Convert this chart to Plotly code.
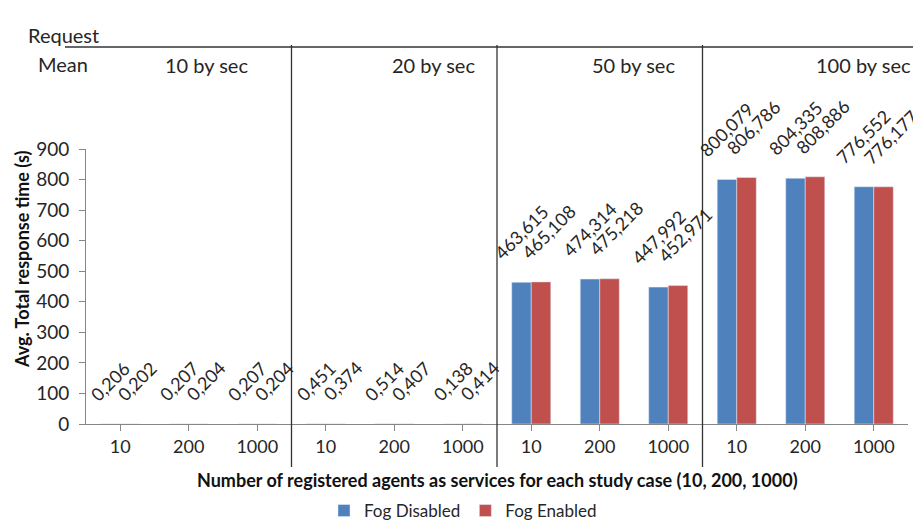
import plotly.graph_objects as go

# ---- data ----
groups = ["10 by sec", "20 by sec", "50 by sec", "100 by sec"]
agents = ["10", "200", "1000"]
fog_disabled = [0.206, 0.207, 0.207,
                0.451, 0.514, 0.138,
                463.615, 474.314, 447.992,
                800.079, 804.335, 776.552]
fog_enabled = [0.202, 0.204, 0.204,
               0.374, 0.407, 0.414,
               465.108, 475.218, 452.971,
               806.786, 808.886, 776.177]
y_ticks = [0, 100, 200, 300, 400, 500, 600, 700, 800, 900]

FONT = "Lato"
TXT = "#262626"
n_cat = len(groups) * len(agents)
x_idx = list(range(n_cat))
tick_text = [a for g in groups for a in agents]

# page body has an 8px margin; work in screen pixels and shift
OFF = 8
FIG_W, FIG_H = 921 - OFF, 530 - OFF
L, R, T, B = 86, 908, 149, 424   # plot area in screen pixels
PW, PH = R - L, B - T

BARGAP = 0.43
HALF = (1 - BARGAP) / 4          # centre offset of each bar in a pair


def px_x(p):
    return (p - L) / PW


def px_y(p):
    return (B - p) / PH


def fmt(v):
    return f"{v:.3f}".replace(".", ",")


fig = go.Figure()
series = [("Fog Disabled", fog_disabled, "#4F81BD", -HALF, 0),
          ("Fog Enabled", fog_enabled, "#C0504D", HALF, 7)]
annotations = []
for name, vals, col, off, xs in series:
    fig.add_trace(go.Bar(x=x_idx, y=vals, name=name, marker=dict(color=col)))
    for i, v in zip(x_idx, vals):
        annotations.append(dict(text=fmt(v), x=i + off, y=v, xref="x", yref="y",
                                textangle=-45, showarrow=False,
                                xanchor="center", yanchor="bottom",
                                xshift=xs, yshift=16,
                                font=dict(family=FONT, size=18, color=TXT)))

shapes = []
for gi in range(1, len(groups)):
    xb = gi * len(agents) - 0.5
    shapes.append(dict(type="line", xref="x", yref="paper",
                       x0=xb, x1=xb, y0=px_y(467), y1=px_y(45),
                       line=dict(color="#333333", width=1.3)))
shapes.append(dict(type="line", xref="paper", yref="paper",
                   x0=px_x(65), x1=px_x(930), y0=px_y(47), y1=px_y(47),
                   line=dict(color="#333333", width=1.3)))

head_x = [206, 433, 633, 863]
for g, hx in zip(groups, head_x):
    annotations.append(dict(text=g, xref="paper", yref="paper",
                            x=px_x(hx), y=px_y(65),
                            showarrow=False, xanchor="center", yanchor="middle",
                            font=dict(family=FONT, size=20, color=TXT)))
annotations.append(dict(text="Request", xref="paper", yref="paper",
                        x=px_x(26), y=px_y(35),
                        showarrow=False, xanchor="left", yanchor="middle",
                        font=dict(family=FONT, size=20, color=TXT)))
annotations.append(dict(text="Mean", xref="paper", yref="paper",
                        x=px_x(36), y=px_y(64),
                        showarrow=False, xanchor="left", yanchor="middle",
                        font=dict(family=FONT, size=20, color=TXT)))
annotations.append(dict(text="<b>Avg. Total response time (s)</b>", xref="paper", yref="paper",
                        x=px_x(22), y=px_y(260), textangle=-90,
                        showarrow=False, xanchor="center", yanchor="middle",
                        font=dict(family=FONT, size=18, color="#111111")))
annotations.append(dict(text="<b>Number of registered agents as services for each study case (10, 200, 1000)</b>",
                        xref="paper", yref="paper",
                        x=px_x(497), y=px_y(480),
                        showarrow=False, xanchor="center", yanchor="middle",
                        font=dict(family=FONT, size=18, color="#111111")))

fig.update_layout(
    width=FIG_W, height=FIG_H,
    margin=dict(l=L - OFF, r=FIG_W - (R - OFF), t=T - OFF, b=FIG_H - (B - OFF),
                autoexpand=False),
    paper_bgcolor="white", plot_bgcolor="white",
    barmode="group", bargap=BARGAP, bargroupgap=0,
    font=dict(family=FONT, size=16, color=TXT),
    shapes=shapes, annotations=annotations,
    legend=dict(orientation="h", xref="container", yref="container",
                x=(463 - OFF) / FIG_W, xanchor="center",
                y=1 - (511 - OFF) / FIG_H, yanchor="middle",
                font=dict(family=FONT, size=17, color=TXT),
                itemwidth=30),
    showlegend=True,
)
fig.update_xaxes(
    range=[-0.5, n_cat - 0.5], tickmode="array", tickvals=x_idx, ticktext=tick_text,
    showline=True, linecolor="#868686", linewidth=1,
    ticks="outside", tickson="boundaries", ticklen=6, tickcolor="#868686",
    showgrid=False, zeroline=False, automargin=False,
    tickfont=dict(family=FONT, size=18, color=TXT),
)
fig.update_yaxes(
    range=[0, 900], tickmode="array", tickvals=y_ticks,
    showline=True, linecolor="#868686", linewidth=1,
    ticks="outside", ticklen=6, tickcolor="#868686", ticklabelstandoff=6,
    showgrid=False, zeroline=False, automargin=False,
    tickfont=dict(family=FONT, size=19, color=TXT),
)

fig.write_html("out.html")
